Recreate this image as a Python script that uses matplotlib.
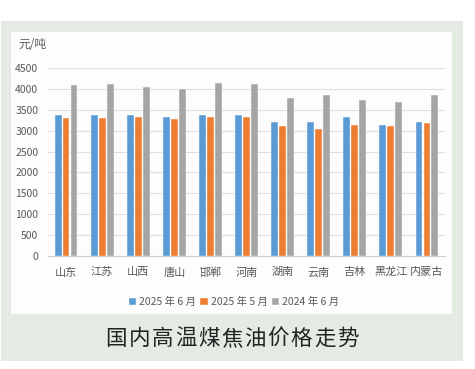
import numpy as np
import matplotlib
matplotlib.use("Agg")
import matplotlib.pyplot as plt
from matplotlib.patches import Rectangle

plt.rcParams['font.family'] = ['Noto Sans CJK SC', 'DejaVu Sans']

regions = ['山东', '江苏', '山西', '唐山', '邯郸', '河南', '湖南', '云南', '吉林', '黑龙江', '内蒙古']
jun_2025 = [3370, 3370, 3370, 3320, 3385, 3385, 3210, 3200, 3330, 3130, 3210]
may_2025 = [3300, 3300, 3335, 3290, 3335, 3335, 3100, 3035, 3130, 3115, 3185]
jun_2024 = [4095, 4110, 4055, 4000, 4140, 4125, 3775, 3855, 3745, 3690, 3845]
series_names = ['2025 年 6 月', '2025 年 5 月', '2024 年 6 月']

W, H = 475, 369
fig = plt.figure(figsize=(W / 100, H / 100), dpi=100)

def fx(px):
    return px / W

def fy(py):
    return 1 - py / H

# green panel + white card
fig.patches.append(Rectangle((fx(1), fy(361)), fx(462), 340 / H, transform=fig.transFigure,
                             facecolor='#E3EBE3', edgecolor='none', zorder=-2))
fig.patches.append(Rectangle((fx(11), fy(314)), fx(441), 282 / H, transform=fig.transFigure,
                             facecolor='#FDFDFD', edgecolor='none', zorder=-1))

ax = fig.add_axes([fx(48), fy(256), fx(397), 188 / H])
ax.set_facecolor('none')

x = np.arange(len(regions))
w = 0.19
off = 0.22
colors = ['#5B9BD5', '#ED7D31', '#A5A5A5']
for i, (vals, c, name) in enumerate(zip([jun_2025, may_2025, jun_2024], colors, series_names)):
    ax.bar(x + (i - 1) * off, vals, width=w, color=c, label=name, zorder=3,
           edgecolor='white', linewidth=0.3)

ax.set_xlim(-0.5, len(regions) - 0.5)
ax.set_ylim(0, 4500)
ax.set_yticks(np.arange(0, 4501, 500))
ax.grid(axis='y', color='#E2DCDC', linewidth=0.8, zorder=0)
for s in ['top', 'right', 'left']:
    ax.spines[s].set_visible(False)
ax.spines['bottom'].set_color('#D0D0D0')
ax.tick_params(axis='both', length=0, colors='#595959', labelsize=7.5)
ax.tick_params(axis='y', pad=7)
ax.tick_params(axis='x', pad=8)
ax.set_xticks(x)
ax.set_xticklabels(regions, fontsize=8)

fig.text(fx(18), fy(45), '元/吨', fontsize=8.5, color='#595959', va='center', ha='left')

fig.legend(loc='center', bbox_to_anchor=(fx(234), fy(302)), ncol=3, frameon=False,
           fontsize=7.5, handlelength=0.7, handleheight=0.7, handletextpad=0.3,
           columnspacing=0.4, labelcolor='#595959')

title = '国内高温煤焦油价格走势'
for k, ch in enumerate(title):
    fig.text(fx(116 + k * 23.2), fy(339), ch, fontsize=15.5, color='#222222',
             ha='center', va='center')

fig.savefig('out.png', dpi=100)
